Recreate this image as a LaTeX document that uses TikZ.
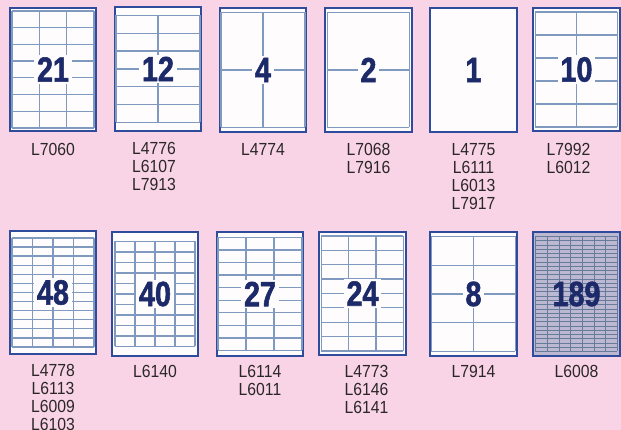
\documentclass[tikz,border=0pt]{standalone}
\usepackage{fontspec}
\setmainfont{Liberation Sans}
\newfontfamily\codefont{Liberation Sans}[FakeStretch=0.9]
\newfontfamily\tallyfont{Liberation Sans}[FakeStretch=0.82, BoldFeatures={FakeBold=1.6}]
\usetikzlibrary{positioning, calc}
\usepackage{xcolor}

\definecolor{bgpink}{HTML}{F9D4E6}
\definecolor{sheetblue}{HTML}{2F4C9C}
\definecolor{gridblue}{HTML}{7F99BF}
\definecolor{paper}{HTML}{FFFCFD}
\definecolor{tallyblue}{HTML}{1C2A6A}
\definecolor{codegrey}{HTML}{2B2728}
\definecolor{densefill}{HTML}{BCB8D2}

% label grid inside a sheet: [style]{sheet}{cols}{rows}{x inset}{y inset}
\newcommand{\sheetgrid}[6][]{%
  \foreach \c in {0,...,#3}
    \draw[gridline,#1] ($(#2.north west)+({#5+\c*(88-2*#5)/#3},#6)$) -- ++(0,{125-2*#6});
  \foreach \r in {0,...,#4}
    \draw[gridline,#1] ($(#2.north west)+(#5,{#6+\r*(125-2*#6)/#4})$) -- ++({88-2*#5},0);
}

\begin{document}
\begin{tikzpicture}[
    x=1pt, y=-1pt,
    node distance=11pt,
    sheet/.style={draw=sheetblue, line width=1.6pt, fill=paper, minimum width=86.5pt, minimum height=123.5pt, inner sep=0pt},
    gridline/.style={draw=gridblue, line width=1.3pt},
    densegrid/.style={draw=gridblue!80!black, line width=0.7pt},
    tally/.style={fill=paper, inner xsep=3pt, inner ysep=2pt, text=tallyblue, font=\tallyfont\bfseries\fontsize{35}{35}\selectfont},
    sheetcode/.style={inner sep=0pt, align=center, text=codegrey, font=\codefont\fontsize{17.5}{18}\selectfont}
]

\path[use as bounding box, fill=bgpink] (0,0) rectangle (621,430);

% top row
\node[sheet] (s21) at (53,69.5) {};
\node[sheet] (s12) at (158,69) {};
\node[sheet] (s4) at (263,70) {};
\node[sheet] (s2) at (368.5,70) {};
\node[sheet] (s1) at (473.5,70) {};
\node[sheet] (s10) at (576.5,69.5) {};

\sheetgrid{s21}{3}{7}{3}{4}
\sheetgrid{s12}{2}{6}{2}{9}
\sheetgrid{s4}{2}{2}{2}{5}
\sheetgrid{s2}{1}{2}{3}{5}
\sheetgrid{s10}{2}{5}{3}{5}

\node[tally] (n21) at (s21) {21};
\node[tally] (n12) at (s12) {12};
\node[tally] (n4) at (s4) {4};
\node[tally] (n2) at (s2) {2};
\node[tally] (n1) at (s1) {1};
\node[tally] (n10) at (s10) {10};

\node[sheetcode, below=of s21] (l21) {L7060};
\node[sheetcode, below=of s12, xshift=-4pt] (l12) {L4776\\L6107\\L7913};
\node[sheetcode, below=of s4] (l4) {L4774};
\node[sheetcode, below=of s2] (l2) {L7068\\L7916};
\node[sheetcode, below=of s1] (l1) {L4775\\L6111\\L6013\\L7917};
\node[sheetcode, below=of s10, xshift=-8pt] (l10) {L7992\\L6012};

% bottom row
\node[sheet] (s48) at (53,292.5) {};
\node[sheet] (s40) at (155,294) {};
\node[sheet] (s27) at (260,294) {};
\node[sheet] (s24) at (362.5,293.5) {};
\node[sheet] (s8) at (473.5,294) {};
\node[sheet, fill=densefill] (s189) at (576.5,294) {};

\sheetgrid{s48}{4}{12}{3}{8}
\sheetgrid{s40}{4}{10}{4}{10}
\sheetgrid{s27}{3}{9}{2}{6}
\sheetgrid{s24}{3}{8}{3}{5}
\sheetgrid{s8}{2}{4}{2}{5}
\sheetgrid[densegrid]{s189}{7}{27}{3}{5}

\node[tally] (n48) at (s48) {48};
\node[tally] (n40) at (s40) {40};
\node[tally] (n27) at (s27) {27};
\node[tally] (n24) at (s24) {24};
\node[tally] (n8) at (s8) {8};
\node[tally, fill=none] (n189) at (s189) {189};

\node[sheetcode, below=9pt of s48] (l48) {L4778\\L6113\\L6009\\L6103};
\node[sheetcode, below=9pt of s40] (l40) {L6140};
\node[sheetcode, below=9pt of s27] (l27) {L6114\\L6011};
\node[sheetcode, below=9pt of s24, xshift=4pt] (l24) {L4773\\L6146\\L6141};
\node[sheetcode, below=9pt of s8] (l8) {L7914};
\node[sheetcode, below=9pt of s189] (l189) {L6008};

\end{tikzpicture}
\end{document}
